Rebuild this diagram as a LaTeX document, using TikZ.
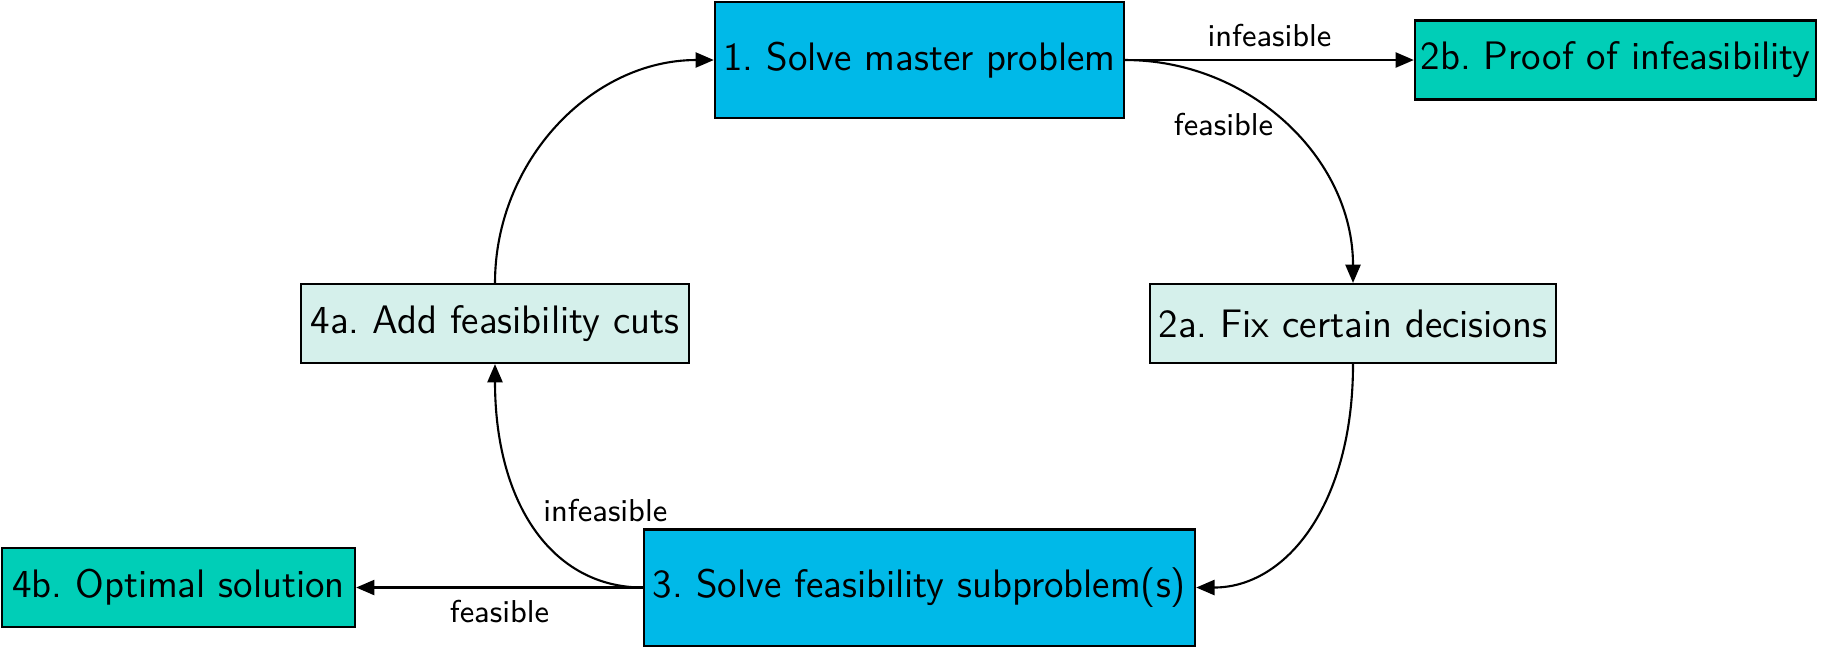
\documentclass[tikz,border=0pt]{standalone}
\usepackage{tikz}
\usetikzlibrary{arrows.meta}

\definecolor{solvecyan}{RGB}{0,185,232}
\definecolor{fixmint}{RGB}{213,240,235}
\definecolor{endteal}{RGB}{0,206,183}

\frenchspacing

\begin{document}
\begin{tikzpicture}[x=0.01cm,y=-0.01cm,
		box/.style={draw=black,line width=0.6pt,inner sep=0pt,font=\fontsize{11.3}{13.5}\selectfont\sffamily},
		solvebox/.style={box,fill=solvecyan,minimum height=1.16cm},
		fixbox/.style={box,fill=fixmint,minimum height=0.79cm},
		endbox/.style={box,fill=endteal,minimum height=0.79cm},
		flow/.style={line width=0.6pt,-{Triangle[length=5.2pt,width=4.3pt]}},
		lbl/.style={font=\fontsize{9}{11}\selectfont\sffamily}]
			
				\useasboundingbox (0,0) rectangle (1825,647);
				
				\node[solvebox,minimum width=4.09cm] (master) at (919.5,60) {1. Solve master problem};
				\node[endbox,minimum width=4.01cm] (proof) at (1615.5,60) {2b. Proof of infeasibility};
				\node[fixbox,minimum width=4.06cm] (fix) at (1353,323.5) {2a. Fix certain decisions};
				\node[fixbox,minimum width=3.88cm] (cuts) at (495,323.5) {4a. Add feasibility cuts};
				\node[solvebox,minimum width=5.51cm] (sub) at (919.5,587.5) {3. Solve feasibility subproblem(s)};
				\node[endbox,minimum width=3.53cm] (opt) at (178.5,587.5) {4b. Optimal solution};
				
				\draw[flow] (master.east) -- node[lbl,above] {infeasible} (proof.west);
				\draw[flow] (master.east) to[out=0,in=90] node[lbl,pos=0.5,left] {feasible} (fix.north);
				\draw[flow] (fix.south) to[out=-90,in=0,out distance=1.4cm,in distance=0.9cm] (sub.east);
				\draw[flow] (sub.west) to[out=180,in=-90,out distance=0.9cm,in distance=1.4cm] node[lbl,pos=0.53,anchor=base west] {infeasible} (cuts.south);
				\draw[flow] (sub.west) -- node[lbl,below] {feasible} (opt.east);
				\draw[flow] (cuts.north) to[out=90,in=180] (master.west);
			\end{tikzpicture}
\end{document}
